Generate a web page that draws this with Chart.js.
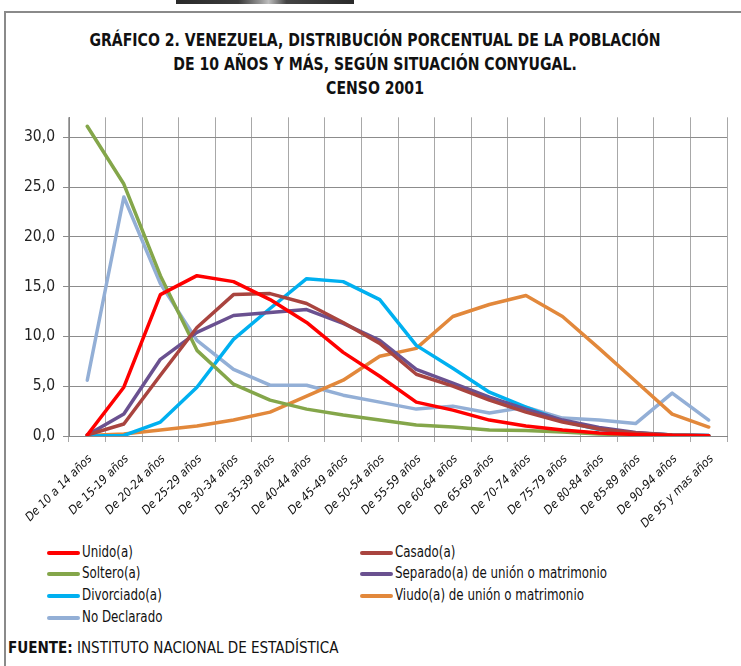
<!DOCTYPE html>
<html>
<head>
<meta charset="utf-8">
<script src="https://cdn.jsdelivr.net/npm/chart.js@4/dist/chart.umd.min.js"></script>
<style>
  body { margin: 0; background: #fff; width: 741px; height: 666px; overflow: hidden; position: relative; }
  .narrow { font-family: 'DejaVu Sans Condensed', 'Liberation Sans', sans-serif; }
  #photo { position: absolute; left: 176px; top: 0; width: 178px; height: 4px;
    background: linear-gradient(90deg, #2a2a2a 0%, #3a3a3a 35%, #9a9a9a 48%, #bdbdbd 52%, #444 62%, #2a2a2a 100%); }
  #frame { position: absolute; left: 4px; top: 11px; width: 800px; height: 700px;
    border-left: 2px solid #8a8a8a; border-top: 2px solid #8a8a8a; }
  #title { position: absolute; left: 5px; top: 28px; width: 740px; text-align: center;
    font-weight: bold; font-size: 17px; line-height: 24px; color: #111;
    transform: scaleX(0.92); transform-origin: 370px 0; }
  #wrap { position: absolute; left: 5px; top: 100px; width: 736px; height: 440px; }
  #legend { position: absolute; left: 0; top: 541px; width: 741px; height: 90px; font-size: 15px; color: #111; }
  .item { position: absolute; height: 22px; line-height: 22px; white-space: nowrap; }
  .item span.swatch { display: inline-block; width: 33px; height: 4px; border-radius: 2px; vertical-align: middle; margin-right: 2px; }
  .item span.txt { display: inline-block; transform: scaleX(0.88); transform-origin: 0 50%; }
  #source { position: absolute; left: 8px; top: 638px; font-size: 16px; color: #111;
    transform: scaleX(0.94); transform-origin: 0 0; white-space: nowrap; }
</style>
</head>
<body>
<div id="photo"></div>
<div id="frame"></div>
<div id="title" class="narrow">GRÁFICO 2. VENEZUELA, DISTRIBUCIÓN PORCENTUAL DE LA POBLACIÓN<br>DE 10 AÑOS Y MÁS, SEGÚN SITUACIÓN CONYUGAL.<br>CENSO 2001</div>
<div id="wrap"><canvas id="chart"></canvas></div>
<div id="legend" class="narrow"></div>
<div id="source" class="narrow"><b>FUENTE:</b> INSTITUTO NACIONAL DE ESTADÍSTICA</div>
<script>
const ageGroups = ['De 10 a 14 años', 'De 15-19 años', 'De 20-24 años', 'De 25-29 años', 'De 30-34 años',
  'De 35-39 años', 'De 40-44 años', 'De 45-49 años', 'De 50-54 años', 'De 55-59 años', 'De 60-64 años',
  'De 65-69 años', 'De 70-74 años', 'De 75-79 años', 'De 80-84 años', 'De 85-89 años', 'De 90-94 años',
  'De 95 y mas años'];

const unido = [0.1, 4.9, 14.2, 16.1, 15.5, 13.7, 11.4, 8.4, 6.0, 3.4, 2.6, 1.6, 1.0, 0.6, 0.3, 0.15, 0.05, 0.02];
const casado = [0.1, 1.2, 6.1, 10.9, 14.2, 14.3, 13.3, 11.4, 9.3, 6.2, 5.0, 3.6, 2.4, 1.4, 0.7, 0.3, 0.1, 0.03];
const soltero = [31.1, 25.3, 16.1, 8.6, 5.2, 3.6, 2.7, 2.1, 1.6, 1.1, 0.9, 0.6, 0.55, 0.4, 0.2, 0.1, 0.05, 0.02];
const separado = [0.1, 2.2, 7.7, 10.4, 12.1, 12.4, 12.7, 11.3, 9.6, 6.7, 5.3, 3.9, 2.7, 1.6, 0.85, 0.35, 0.1, 0.05];
const divorciado = [0.0, 0.05, 1.4, 4.9, 9.7, 12.8, 15.8, 15.5, 13.7, 9.1, 6.8, 4.4, 2.9, 1.5, 0.65, 0.3, 0.1, 0.05];
const viudo = [0.05, 0.2, 0.6, 1.0, 1.6, 2.4, 4.0, 5.6, 8.0, 8.8, 12.0, 13.2, 14.1, 12.0, 8.8, 5.5, 2.2, 0.9];
const noDeclarado = [5.6, 24.0, 15.3, 9.6, 6.7, 5.1, 5.1, 4.1, 3.4, 2.7, 3.0, 2.3, 2.9, 1.8, 1.6, 1.25, 4.3, 1.6];

const yTicks = [0, 5, 10, 15, 20, 25, 30];

const narrow = "'DejaVu Sans Condensed', 'Liberation Sans', sans-serif";

const line = (label, data, color) => ({
  label: label,
  data: data,
  borderColor: color,
  backgroundColor: color,
  borderWidth: 3.5,
  pointRadius: 0,
  tension: 0,
  borderJoinStyle: 'round',
  borderCapStyle: 'round',
});

const chart = new Chart(document.getElementById('chart'), {
  type: 'line',
  data: {
    labels: ageGroups,
    datasets: [
      line('Unido(a)', unido, '#ff0000'),
      line('Casado(a)', casado, '#a9443f'),
      line('Soltero(a)', soltero, '#84a64a'),
      line('Separado(a) de unión o matrimonio', separado, '#6a5190'),
      line('Divorciado(a)', divorciado, '#00b0f0'),
      line('Viudo(a) de unión o matrimonio', viudo, '#e2883b'),
      line('No Declarado', noDeclarado, '#93afd6'),
    ],
  },
  options: {
    responsive: true,
    maintainAspectRatio: false,
    animation: false,
    layout: { padding: { top: 12, right: 14, left: 0, bottom: 0 } },
    plugins: {
      legend: { display: false },
      title: { display: false },
      tooltip: { enabled: false },
    },
    scales: {
      x: {
        offset: true,
        grid: { offset: true, color: '#a8a8a8', tickLength: 6 },
        border: { color: '#868686' },
        ticks: {
          minRotation: 45,
          maxRotation: 45,
          autoSkip: false,
          padding: 10,
          labelOffset: 3,
          color: '#111',
          font: { family: narrow, size: 12, style: 'italic' },
        },
        afterFit: (scale) => { scale.height = 104; },
      },
      y: {
        min: 0,
        max: 32,
        grid: { color: '#8c8c8c', tickLength: 6 },
        border: { color: '#868686' },
        ticks: {
          stepSize: 5,
          padding: 8,
          color: '#222',
          font: { family: narrow, size: 15.5 },
          callback: (v) => v.toFixed(1).replace('.', ','),
        },
        afterBuildTicks: (axis) => {
          axis.ticks = yTicks.map((v) => ({ value: v }));
        },
        afterFit: (scale) => { scale.width = 64; },
      },
    },
  },
});

// legend in two columns, like the original
const legend = document.getElementById('legend');
const cols = [47, 360];
const rows = [0, 21, 43, 65];
chart.data.datasets.forEach((ds, i) => {
  const el = document.createElement('div');
  el.className = 'item';
  el.style.left = cols[i % 2] + 'px';
  el.style.top = rows[Math.floor(i / 2)] + 'px';
  const sw = document.createElement('span');
  sw.className = 'swatch';
  sw.style.background = ds.borderColor;
  const txt = document.createElement('span');
  txt.className = 'txt';
  txt.textContent = ds.label;
  el.appendChild(sw);
  el.appendChild(txt);
  legend.appendChild(el);
});
</script>
</body>
</html>
